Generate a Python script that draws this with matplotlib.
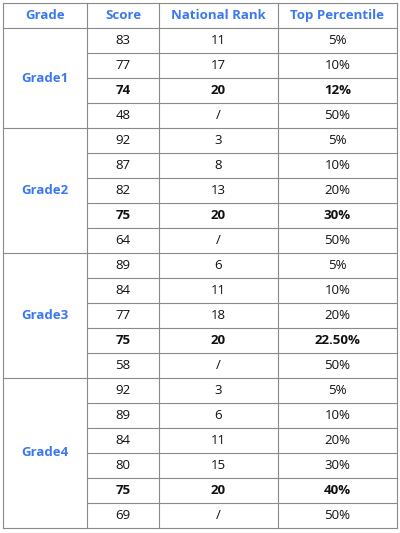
import matplotlib
matplotlib.use('Agg')
import matplotlib.pyplot as plt

HEADERS = ['Grade', 'Score', 'National Rank', 'Top Percentile']
GRADES = ['Grade1', 'Grade2', 'Grade3', 'Grade4']
SCORES = [[83, 77, 74, 48], [92, 87, 82, 75, 64], [89, 84, 77, 75, 58],
          [92, 89, 84, 80, 75, 69]]
RANKS = [['11', '17', '20', '/'], ['3', '8', '13', '20', '/'],
         ['6', '11', '18', '20', '/'], ['3', '6', '11', '15', '20', '/']]
PCTS = [['5%', '10%', '12%', '50%'], ['5%', '10%', '20%', '30%', '50%'],
        ['5%', '10%', '20%', '22.50%', '50%'],
        ['5%', '10%', '20%', '30%', '40%', '50%']]
BOLD = [2, 3, 3, 4]  # highlighted row in each grade

W, H = 400, 533
XS = [3, 87, 159, 278, 397]
TOP, ROW = 3, 25
BLUE = '#3b78f0'
LINE = '#8a8a8a'
FS = 9.5
plt.rcParams['font.family'] = ['Open Sans', 'DejaVu Sans']

fig = plt.figure(figsize=(W / 100, H / 100), dpi=100)
ax = fig.add_axes([0, 0, 1, 1])
ax.set_xlim(0, W); ax.set_ylim(H, 0); ax.axis('off')

def cx(i):
  return (XS[i] + XS[i + 1]) / 2

y = TOP
for i, h in enumerate(HEADERS):
  ax.text(cx(i), y + ROW / 2, h, color=BLUE, weight='bold', fontsize=FS,
          ha='center', va='center')
y += ROW
ax.plot([XS[0], XS[-1]], [y, y], color=LINE, lw=0.8)
for g, name in enumerate(GRADES):
  n = len(SCORES[g])
  ax.text(cx(0), y + n * ROW / 2, name, color=BLUE, weight='bold',
          fontsize=FS, ha='center', va='center')
  for r in range(n):
    yc = y + (r + 0.5) * ROW
    wt = 'bold' if r == BOLD[g] else 'normal'
    for c, v in enumerate([SCORES[g][r], RANKS[g][r], PCTS[g][r]]):
      ax.text(cx(c + 1), yc, str(v), fontsize=FS, weight=wt, ha='center',
              va='center', color='#111111')
    if r < n - 1:
      ax.plot([XS[1], XS[-1]], [y + (r + 1) * ROW] * 2, color=LINE, lw=0.8)
  y += n * ROW
  ax.plot([XS[0], XS[-1]], [y, y], color=LINE, lw=0.8)
for x in XS:
  ax.plot([x, x], [TOP, y], color=LINE, lw=0.8)
ax.plot([XS[0], XS[-1]], [TOP, TOP], color=LINE, lw=0.8)

fig.savefig('out.png', dpi=100)
